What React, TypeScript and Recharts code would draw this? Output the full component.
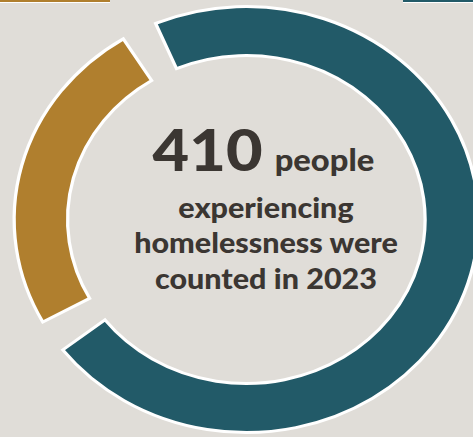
import { Cell, Label, Pie, PieChart } from 'recharts'

const segmentNames = ['Counted group A', 'Counted group B']
const segmentValues = [306, 104]
const segmentColors = ['#225a68', '#b07f2e']

const headline = '410'
const headlineTail = 'people'
const bodyLines = ['experiencing', 'homelessness were', 'counted in 2023']

const chartData = segmentNames.map((name, i) => ({
  name,
  value: segmentValues[i],
  color: segmentColors[i],
}))

const STRETCH = 1.09
const TEXT_COLOR = '#3b3632'
const FONT = 'Lato, "Open Sans", sans-serif'

interface CenterProps {
  viewBox?: { cx?: number; cy?: number }
}

function CenterText({ viewBox }: CenterProps) {
  const cx = (viewBox?.cx ?? 226) + 18
  const cy = viewBox?.cy ?? 220
  return (
    <g fill={TEXT_COLOR} fontFamily={FONT} fontWeight={900}>
      <text x={cx - 104} y={cy - 49} fontSize={58} textAnchor="start">
        {headline}
      </text>
      <text x={cx + 8} y={cy - 49} fontSize={30} textAnchor="start">
        {headlineTail}
      </text>
      {bodyLines.map((line, i) => (
        <text key={line} x={cx} y={cy - 2 + i * 35.5} fontSize={28} textAnchor="middle">
          {line}
        </text>
      ))}
    </g>
  )
}

export default function App() {
  return (
    <div
      style={{
        position: 'fixed',
        left: 0,
        top: 0,
        width: 473,
        height: 437,
        background: '#e0ddd8',
        overflow: 'hidden',
      }}
    >
      <div
        style={{
          position: 'absolute',
          left: 0,
          top: 0,
          width: 110,
          height: 2,
          background: segmentColors[1],
          borderBottom: '1px solid #ffffff',
        }}
      />
      <div
        style={{
          position: 'absolute',
          left: 403,
          top: 0,
          width: 70,
          height: 2,
          background: segmentColors[0],
          borderBottom: '1px solid #ffffff',
        }}
      />
      <div
        style={{
          position: 'absolute',
          left: 0,
          top: 0,
          transform: `scaleX(${STRETCH})`,
          transformOrigin: '0 0',
        }}
      >
        <PieChart width={470} height={437} margin={{ top: 0, right: 0, bottom: 0, left: 0 }}>
          <Pie
            data={chartData}
            dataKey="value"
            nameKey="name"
            cx={226}
            cy={219.5}
            innerRadius={164}
            outerRadius={213}
            startAngle={113}
            endAngle={-247}
            paddingAngle={9}
            stroke="#ffffff"
            strokeWidth={3}
            isAnimationActive={false}
          >
            {chartData.map((entry) => (
              <Cell key={entry.name} fill={entry.color} />
            ))}
            <Label position="center" content={<CenterText />} />
          </Pie>
        </PieChart>
      </div>
    </div>
  )
}
